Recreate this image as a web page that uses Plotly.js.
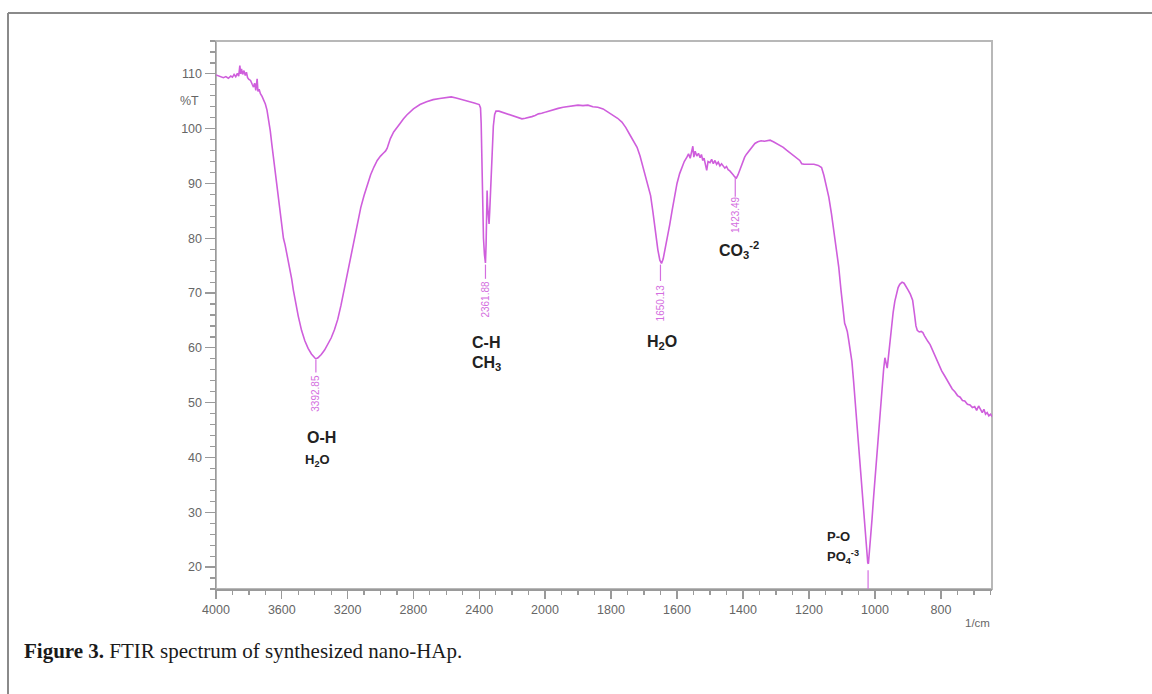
<!DOCTYPE html>
<html>
<head>
<meta charset="utf-8">
<script src="https://cdn.plot.ly/plotly-3.0.1.min.js"></script>
<style>html,body{margin:0;padding:0;background:#fff;}#chart{width:1152px;height:694px;}</style>
</head>
<body>
<div id="chart"></div>
<script>
// Wavenumber (1/cm) and transmittance (%T)
const wavenumber = [
4000,3985,3970,3955,3940,3925,3910,3900,3890,3880,3870,3862,3855,3850,3845,3838,3830,3822,3815,3808,
3800,3790,3780,3772,3765,3758,3750,3745,3738,3730,3720,3710,3700,3690,3680,3670,3660,3650,3640,3630,
3620,3610,3600,3590,3580,3570,3560,3550,3540,3530,3520,3500,3480,3460,3440,3420,3400,3393,3380,3360,
3340,3320,3300,3280,3260,3240,3220,3200,3180,3160,3140,3120,3100,3080,3060,3040,3020,3000,2990,2980,
2970,2960,2950,2940,2920,2900,2880,2860,2840,2800,2760,2720,2680,2640,2600,2570,2540,2500,2460,2430,
2400,2392,2388,2384,2380,2374,2368,2362,2358,2355,2352,2349,2345,2340,2336,2330,2322,2314,2306,2298,
2280,2260,2240,2220,2200,2180,2160,2140,2120,2100,2080,2060,2040,2020,2000,
1990,1975,1960,1945,1930,1915,1900,1885,1870,1855,1840,1824,1810,1794,1780,1767,1755,1742,1730,1721,
1712,1703,1695,1688,1680,1673,1665,1658,1652,1647,1642,1636,1630,1622,1615,1608,1600,1592,1585,1578,
1570,1565,1560,1556,1552,1549,1545,1540,1535,1530,1526,1522,1518,1514,1510,1506,1500,1495,1490,1485,
1480,1475,1470,1465,1460,1455,1450,1445,1440,1435,1430,1425,1420,1415,1410,1405,1400,1395,1390,1385,
1379,1372,1364,1355,1345,1335,1325,1318,1308,1298,1288,1278,1268,1258,1248,1238,1228,1222,1215,1200,
1185,1172,1162,1155,1148,1140,1132,1125,1118,1110,1103,1097,1092,1088,1084,1080,1075,1070,1065,1060,
1055,1050,1045,1040,1035,1030,1026,1022,1020,1017,1013,1009,1004,999,994,989,984,979,974,970,
966,963,960,955,950,945,940,935,930,925,918,912,906,900,893,886,880,876,872,866,
860,855,850,845,840,833,826,820,812,805,798,790,782,774,766,758,750,742,735,728,
720,712,705,698,692,686,680,675,670,665,660,655,650,645
];
const transmittance = [
109.8,109.6,109.4,109.3,109.5,109.2,109.6,109.4,109.9,109.5,110.1,109.6,111.5,110.0,110.9,109.9,110.6,109.7,110.3,109.3,
109.0,108.8,108.1,107.6,108.3,107.0,109.1,106.8,107.2,106.4,105.9,105.2,104.5,103.4,101.8,99.6,97.0,94.5,91.8,89.0,
86.5,84.0,81.8,80.0,78.8,77.2,75.8,74.6,72.6,70.6,68.8,65.8,63.2,61.3,59.9,58.9,58.2,58.0,58.2,58.8,
59.6,60.6,61.8,63.3,65.2,67.8,70.8,74.0,77.2,80.2,83.0,85.6,87.8,89.8,91.6,93.0,94.2,95.0,95.4,95.6,
95.9,96.4,97.3,98.2,99.4,100.3,101.0,101.8,102.5,103.6,104.4,104.9,105.3,105.5,105.7,105.8,105.6,105.3,105.0,104.7,
104.4,103.8,101.0,95.0,88.0,80.0,77.0,75.5,79.0,84.5,88.7,86.0,83.5,82.6,85.0,90.0,96.5,100.5,102.6,103.2,
103.2,103.0,102.8,102.5,102.3,102.1,101.9,101.8,101.9,102.0,102.2,102.4,102.7,102.8,103.0,
103.2,103.5,103.7,103.9,104.0,104.2,104.3,104.2,104.3,104.0,103.9,103.6,103.1,102.5,101.9,101.2,100.2,98.8,97.6,96.6,
95.0,93.0,91.4,90.0,87.8,84.8,81.0,77.9,76.0,75.4,76.2,78.0,79.8,82.5,85.0,87.6,90.0,91.8,93.0,94.0,
94.8,95.4,94.6,95.8,96.8,94.8,95.9,95.0,95.5,94.7,95.3,94.2,94.6,93.5,92.4,94.0,93.8,94.4,93.6,94.2,
93.5,93.9,93.2,93.6,93.2,92.8,93.1,92.5,92.3,92.0,91.6,91.2,91.0,91.6,92.5,93.4,94.2,94.8,95.3,95.7,
96.1,96.8,97.3,97.6,97.8,97.7,97.9,97.9,97.6,97.3,97.0,96.6,96.1,95.6,95.1,94.7,94.2,93.6,93.5,93.5,
93.5,93.3,92.9,91.5,89.8,87.5,84.5,81.5,78.5,74.8,70.5,66.5,64.5,63.8,63.0,61.5,59.5,57.5,54.0,50.0,
46.5,42.5,38.5,34.5,30.8,27.0,23.8,20.8,20.6,22.5,25.5,28.8,33.0,37.0,41.0,45.0,49.0,52.8,56.0,58.2,
57.0,56.3,58.0,61.2,64.0,66.5,68.5,70.0,71.0,71.6,72.0,71.8,71.3,70.6,69.8,68.7,66.0,64.0,63.2,62.9,
63.0,62.8,62.2,61.6,61.2,60.6,59.6,58.6,57.8,56.8,55.8,55.0,54.2,53.4,52.5,52.0,51.3,51.0,50.4,50.3,
49.7,49.6,49.1,49.3,48.6,49.4,48.7,48.2,48.8,47.9,48.2,47.6,47.9,47.4
];

// Axis tick labels
const highTicks = [4000, 3600, 3200, 2800, 2400, 2000];
const lowTicks = [1800, 1600, 1400, 1200, 1000, 800];
const yTicks = [20, 30, 40, 50, 60, 70, 80, 90, 100, 110];

// Peak labels
const peakWavenumbers = [3392.85, 2361.88, 1650.13, 1423.49];
const peakLabels = ['3392.85', '2361.88', '1650.13', '1423.49'];
const peakTop = [57.8, 75.2, 75.2, 91.0];
const peakLineEnd = [55.5, 72.6, 72.2, 87.6];
const peakTextCenter = [51.8, 68.9, 68.2, 84.3];
const poPeak = 1021;

// Band assignments
const bandText = ['O-H', 'H<sub>2</sub>O', 'C-H', 'CH<sub>3</sub>', 'H<sub>2</sub>O', 'CO<sub>3</sub><sup>-2</sup>', 'P-O', 'PO<sub>4</sub><sup>-3</sup>'];
const bandX = [3356, 3384, 2358, 2358, 1645, 1412, 1151, 1151];
const bandY = [43.7, 39.5, 60.9, 57.2, 60.9, 77.8, 25.5, 21.8];
const bandSize = [16, 13, 16, 16, 16, 16, 13, 13];

const W = 1152, H = 694;
const px = v => v / W, py = v => (H - v) / H;
const splitAt = 2000;

const hiX = [], hiY = [], loX = [], loY = [];
wavenumber.forEach((w, i) => {
  if (w >= splitAt) { hiX.push(w); hiY.push(transmittance[i]); }
  if (w <= splitAt) { loX.push(w); loY.push(transmittance[i]); }
});

const lineColor = '#cf5edc';
const labelColor = '#d46ee0';
const axisColor = '#9a9a9a';
const tickFont = {family: 'Liberation Sans, Arial, sans-serif', size: 12.5, color: '#666'};

const traces = [
  {x: hiX, y: hiY, xaxis: 'x', yaxis: 'y', type: 'scatter', mode: 'lines',
   line: {color: lineColor, width: 1.6}, hoverinfo: 'skip'},
  {x: loX, y: loY, xaxis: 'x2', yaxis: 'y', type: 'scatter', mode: 'lines',
   line: {color: lineColor, width: 1.6}, hoverinfo: 'skip'}
];

const baseAxis = {
  showline: true, linecolor: axisColor, linewidth: 1.5,
  ticks: 'outside', tickcolor: axisColor, tickwidth: 1.2, ticklen: 8,
  showgrid: false, zeroline: false, tickfont: tickFont, fixedrange: true
};

const shapes = [
  {type: 'rect', xref: 'paper', yref: 'paper', x0: px(216), x1: px(992), y0: py(589), y1: py(41),
   line: {color: '#b8b8b8', width: 2}, layer: 'below'},
  {type: 'line', xref: 'paper', yref: 'paper', x0: px(8), x1: px(8), y0: -0.05, y1: py(13),
   line: {color: '#8a8a8a', width: 2}},
  {type: 'line', xref: 'paper', yref: 'paper', x0: px(8), x1: 1.05, y0: py(13), y1: py(13),
   line: {color: '#8a8a8a', width: 2}}
];

const annotations = [];
peakWavenumbers.forEach((w, i) => {
  const xr = w >= splitAt ? 'x' : 'x2';
  shapes.push({type: 'line', xref: xr, yref: 'y', x0: w, x1: w, y0: peakTop[i], y1: peakLineEnd[i],
    line: {color: labelColor, width: 1.2}});
  annotations.push({xref: xr, yref: 'y', x: w, y: peakTextCenter[i], text: peakLabels[i],
    textangle: -90, showarrow: false, xanchor: 'center', yanchor: 'middle',
    font: {family: 'Liberation Sans, Arial, sans-serif', size: 10, color: labelColor}});
});
shapes.push({type: 'line', xref: 'x2', yref: 'y', x0: poPeak, x1: poPeak, y0: 19.4, y1: 16,
  line: {color: labelColor, width: 1.2}});

bandText.forEach((t, i) => {
  const left = i >= 6;
  annotations.push({xref: bandX[i] >= splitAt ? 'x' : 'x2', yref: 'y', x: bandX[i], y: bandY[i],
    text: '<b>' + t + '</b>', showarrow: false, xanchor: left ? 'left' : 'center', yanchor: 'middle',
    font: {family: 'Liberation Sans, Arial, sans-serif', size: bandSize[i], color: '#222'}});
});

annotations.push({xref: 'paper', yref: 'y', x: px(201), y: 105, text: '%T', showarrow: false,
  xanchor: 'right', yanchor: 'middle', font: tickFont});
annotations.push({xref: 'paper', yref: 'paper', x: px(992), y: py(623), text: '1/cm', showarrow: false,
  xanchor: 'right', yanchor: 'middle', font: {family: 'Liberation Sans, Arial, sans-serif', size: 11.5, color: '#666'}});
annotations.push({xref: 'paper', yref: 'paper', x: px(22), y: py(651),
  text: '<b>Figure 3.</b> FTIR spectrum of synthesized nano-HAp.', showarrow: false,
  xanchor: 'left', yanchor: 'middle', font: {family: 'Liberation Serif, Times New Roman, serif', size: 21, color: '#1a1a1a'}});

const layout = {
  width: W, height: H,
  margin: {l: 0, r: 0, t: 0, b: 0},
  paper_bgcolor: '#fff', plot_bgcolor: '#fff',
  showlegend: false,
  xaxis: Object.assign({}, baseAxis, {
    domain: [px(216), px(545)], range: [4000, 2000], anchor: 'y',
    tickmode: 'array', tickvals: highTicks, ticktext: highTicks.map(String),
    minor: {tickmode: 'linear', tick0: 0, dtick: 100, ticklen: 4, tickcolor: axisColor, tickwidth: 1.2, showgrid: false}
  }),
  xaxis2: Object.assign({}, baseAxis, {
    domain: [px(545), px(992)], range: [2000, 645.5], anchor: 'y',
    tickmode: 'array', tickvals: lowTicks, ticktext: lowTicks.map(String),
    minor: {tickmode: 'linear', tick0: 0, dtick: 50, ticklen: 4, tickcolor: axisColor, tickwidth: 1.2, showgrid: false}
  }),
  yaxis: Object.assign({}, baseAxis, {
    domain: [py(589), py(41)], range: [16, 116], anchor: 'x', ticklen: 10,
    tickmode: 'array', tickvals: yTicks, ticktext: yTicks.map(String),
    minor: {tickmode: 'linear', tick0: 0, dtick: 2, ticklen: 5, tickcolor: axisColor, tickwidth: 1.2, showgrid: false}
  }),
  shapes: shapes,
  annotations: annotations
};

Plotly.newPlot('chart', traces, layout, {displayModeBar: false, staticPlot: true});
</script>
</body>
</html>
